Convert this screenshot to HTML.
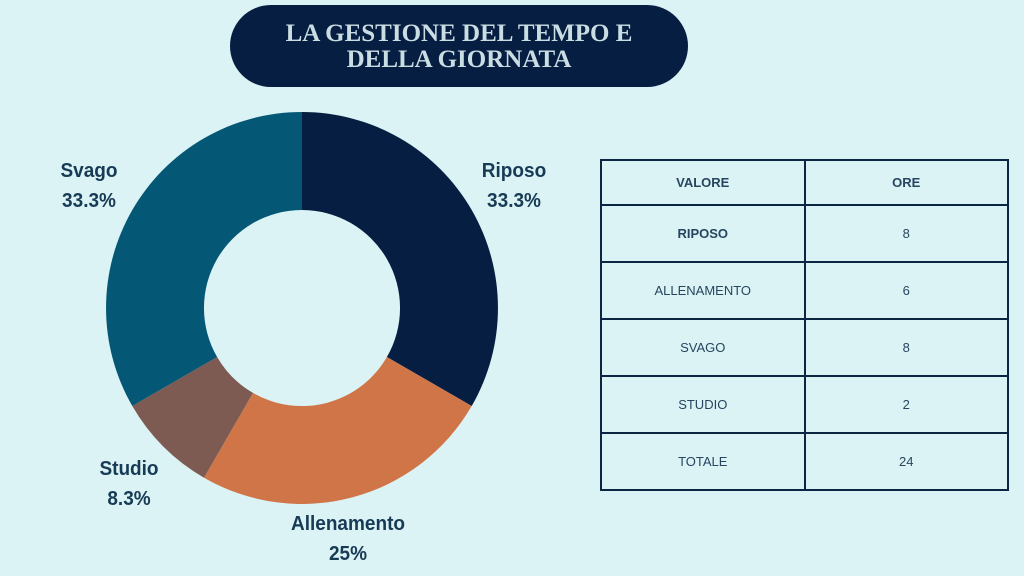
<!DOCTYPE html>
<html><head><meta charset="utf-8"><style>
body{margin:0;width:1024px;height:576px;background:#dbf3f5;position:relative;overflow:hidden;font-family:"Liberation Sans",sans-serif}
.pill{position:absolute;left:230px;top:5px;width:458px;height:82px;border-radius:41px;background:#061e41;color:#cadde3;font-family:"Liberation Serif",serif;font-weight:bold;font-size:25px;line-height:26px;text-align:center;box-sizing:border-box;padding-top:16px}
.lbl{position:absolute;color:#173a55;font-size:20px;font-weight:bold;line-height:30px;text-align:center;transform:translateX(-50%) scaleX(0.95)}
table{position:absolute;left:600px;top:159px;width:409px;border-collapse:collapse}
td{border:2px solid #0b2643;text-align:center;color:#27455e;font-size:13px;height:55px;padding:0;box-sizing:border-box}
tr{height:57px}
tr.h{height:45px}
tr.h td{height:43px;font-weight:bold}
</style></head><body>
<div class="pill">LA GESTIONE DEL TEMPO E<br>DELLA GIORNATA</div>
<svg width="1024" height="576" style="position:absolute;left:0;top:0">
<path d="M302 112 A196 196 0 0 1 471.7 406 L386.9 357 A98 98 0 0 0 302 210 Z" fill="#051e42"/>
<path d="M471.7 406 A196 196 0 0 1 204 477.7 L253 392.9 A98 98 0 0 0 386.9 357 Z" fill="#d07548"/>
<path d="M204 477.7 A196 196 0 0 1 132.3 406 L217.1 357 A98 98 0 0 0 253 392.9 Z" fill="#7d5b53"/>
<path d="M132.3 406 A196 196 0 0 1 302 112 L302 210 A98 98 0 0 0 217.1 357 Z" fill="#045775"/>
</svg>
<div class="lbl" style="left:514px;top:156px">Riposo<br>33.3%</div>
<div class="lbl" style="left:89px;top:156px">Svago<br>33.3%</div>
<div class="lbl" style="left:129px;top:454px">Studio<br>8.3%</div>
<div class="lbl" style="left:348px;top:509px">Allenamento<br>25%</div>
<table>
<tr class="h"><td style="width:50%">VALORE</td><td>ORE</td></tr>
<tr><td style="font-weight:bold">RIPOSO</td><td>8</td></tr>
<tr><td>ALLENAMENTO</td><td>6</td></tr>
<tr><td>SVAGO</td><td>8</td></tr>
<tr><td>STUDIO</td><td>2</td></tr>
<tr><td>TOTALE</td><td>24</td></tr>
</table>
</body></html>
